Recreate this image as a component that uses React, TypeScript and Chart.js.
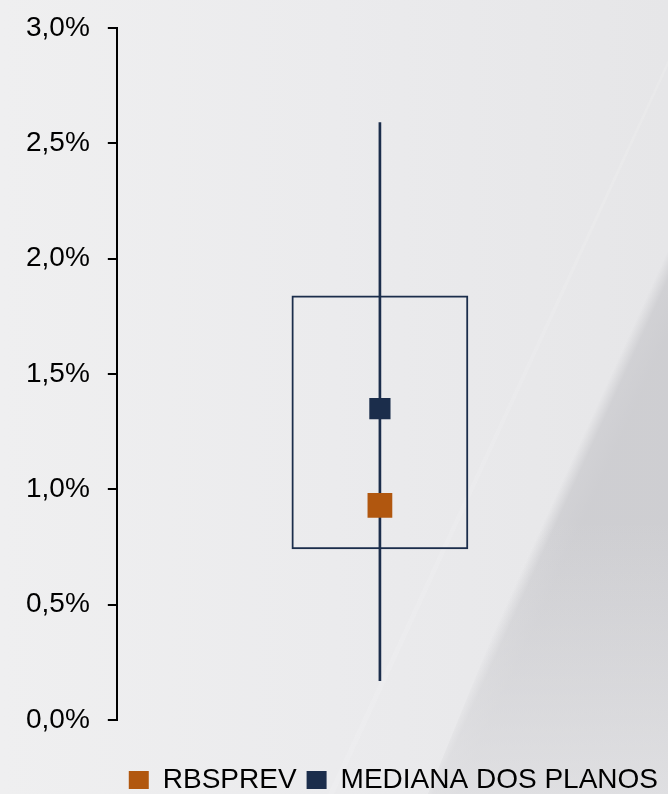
import React, { useEffect, useRef } from 'react';
import { Chart, registerables } from 'chart.js';

Chart.register(...registerables);

// ---- data ----
const categories = ['Planos'];
const whiskerRange: number[] = [0.17, 2.59];
const boxRange: number[] = [0.74, 1.84];
const rbsprevValues: number[] = [0.93];
const medianaValues: number[] = [1.35];
const yTickValues: number[] = [0, 0.5, 1, 1.5, 2, 2.5, 3];
const seriesNames = ['RBSPREV', 'MEDIANA DOS PLANOS'];

const NAVY = '#1b2d4b';
const ORANGE = '#b1570f';
const FONT = '"Liberation Sans", Arial, sans-serif';

const fmt = (v: number) => v.toFixed(1).replace('.', ',') + '%';

const bgPlugin = {
  id: 'bgDecor',
  beforeDraw(chart: any) {
    const { ctx, width, height } = chart;
    ctx.save();
    const g = ctx.createLinearGradient(0, 0, width, 0);
    g.addColorStop(0, '#efeff0');
    g.addColorStop(0.5, '#ebebed');
    g.addColorStop(1, '#e6e6e8');
    ctx.fillStyle = g;
    ctx.fillRect(0, 0, width, height);

    // very faint light streak
    ctx.beginPath();
    ctx.moveTo(width, 60);
    ctx.lineTo(width, 66);
    ctx.lineTo(334, 794);
    ctx.lineTo(328, 794);
    ctx.closePath();
    ctx.fillStyle = 'rgba(255,255,255,0.12)';
    ctx.fill();

    // darker diagonal panel with a soft edge
    const ax = 668, ay = 262, bx = 425, by = 794;
    const dx = bx - ax, dy = by - ay;
    const len = Math.hypot(dx, dy);
    let sx = -dy / len, sy = dx / len;
    if (sx < 0) { sx = -sx; sy = -sy; }
    const mx = (ax + bx) / 2, my = (ay + by) / 2;
    ctx.beginPath();
    ctx.moveTo(ax - sx * 10, ay - sy * 10 - 30);
    ctx.lineTo(width + 20, ay - 40);
    ctx.lineTo(width + 20, height + 20);
    ctx.lineTo(bx - sx * 10, height + 20);
    ctx.closePath();
    const g2 = ctx.createLinearGradient(mx - sx * 5, my - sy * 5, mx + sx * 30, my + sy * 30);
    g2.addColorStop(0, 'rgba(200,200,204,0)');
    g2.addColorStop(0.35, 'rgba(200,200,204,0.7)');
    g2.addColorStop(1, 'rgba(200,200,204,0.8)');
    ctx.fillStyle = g2;
    ctx.fill();
    // lighten towards bottom
    const g3 = ctx.createLinearGradient(0, 520, 0, 794);
    g3.addColorStop(0, 'rgba(234,234,236,0)');
    g3.addColorStop(1, 'rgba(234,234,236,0.6)');
    ctx.fillStyle = g3;
    ctx.fill();
    ctx.restore();
  },
};

export default function App() {
  const canvasRef = useRef<HTMLCanvasElement | null>(null);

  useEffect(() => {
    if (!canvasRef.current) return;
    const chart = new Chart(canvasRef.current, {
      type: 'bar',
      data: {
        labels: categories,
        datasets: [
          {
            type: 'line',
            label: seriesNames[0],
            data: rbsprevValues,
            showLine: false,
            pointStyle: 'rect',
            pointRadius: 17.5,
            pointBackgroundColor: ORANGE,
            pointBorderWidth: 0,
            backgroundColor: ORANGE,
            borderColor: ORANGE,
            borderWidth: 0,
          } as any,
          {
            type: 'line',
            label: seriesNames[1],
            data: medianaValues,
            showLine: false,
            pointStyle: 'rect',
            pointRadius: 15,
            pointBackgroundColor: NAVY,
            pointBorderWidth: 0,
            backgroundColor: NAVY,
            borderColor: NAVY,
            borderWidth: 0,
          } as any,
          {
            type: 'bar',
            label: 'whisker',
            data: [whiskerRange],
            backgroundColor: NAVY,
            borderWidth: 0,
            barThickness: 2,
            grouped: false,
          } as any,
          {
            type: 'bar',
            label: 'box',
            data: [boxRange],
            backgroundColor: 'rgba(0,0,0,0)',
            borderColor: NAVY,
            borderWidth: 2,
            borderSkipped: false,
            barPercentage: 0.336,
            categoryPercentage: 1,
            grouped: false,
          } as any,
        ],
      },
      options: {
        animation: false,
        responsive: true,
        maintainAspectRatio: false,
        layout: { padding: { top: 28, left: 8, right: 0, bottom: 0 } },
        plugins: {
          legend: {
            position: 'bottom',
            align: 'end',
            labels: {
              boxWidth: 20,
              boxHeight: 18,
              padding: 10,
              color: '#000',
              font: { size: 28, family: FONT },
              filter: (item: any) => seriesNames.includes(item.text),
            },
          },
          tooltip: { enabled: false },
        },
        scales: {
          x: {
            type: 'category',
            display: true,
            grid: { display: false },
            border: { display: false },
            ticks: { display: false },
            afterFit: (s: any) => {
              s.height = 36;
            },
          },
          y: {
            position: 'left',
            min: 0,
            max: 3,
            afterBuildTicks: (s: any) => {
              s.ticks = yTickValues.map((v) => ({ value: v }));
            },
            border: { display: true, color: '#000', width: 2 },
            grid: {
              drawOnChartArea: false,
              drawTicks: true,
              tickLength: 9,
              color: '#000',
              lineWidth: 2,
            },
            ticks: {
              padding: 18,
              color: '#000',
              font: { size: 28, family: FONT, lineHeight: 0.6 },
              callback: (v: any) => fmt(Number(v)),
            },
          },
          y2: {
            position: 'right',
            display: true,
            grid: { display: false },
            border: { display: false },
            ticks: { display: false },
            afterFit: (s: any) => {
              s.width = 25;
            },
          },
        },
      } as any,
      plugins: [bgPlugin],
    });
    return () => chart.destroy();
  }, []);

  return (
    <div style={{ position: 'fixed', left: 0, top: 0, width: 668, height: 804 }}>
      <canvas ref={canvasRef} />
    </div>
  );
}
